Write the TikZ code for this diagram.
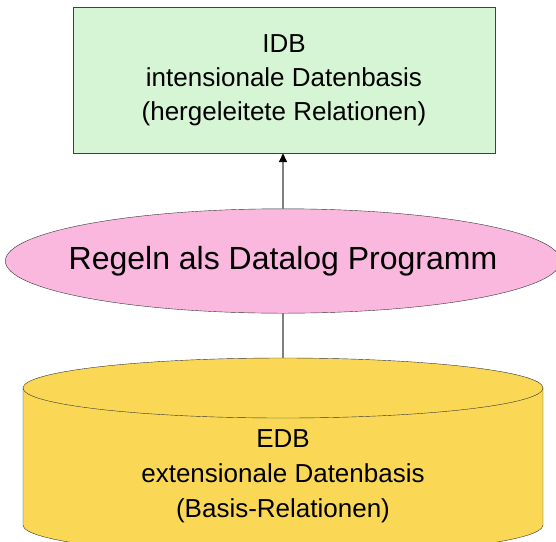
\documentclass[tikz,border=0pt]{standalone}
\usepackage{fontspec}
\setmainfont{Liberation Sans}
\usetikzlibrary{shapes.geometric,arrows.meta}
\definecolor{idbgreen}{RGB}{214,245,212}
\definecolor{regelpink}{RGB}{250,184,222}
\definecolor{edbyellow}{RGB}{250,216,86}
\tikzset{
  box/.style={draw=black!75,fill=idbgreen,minimum width=422pt,minimum height=146pt,inner sep=0pt,align=center,font=\fontsize{26}{34}\selectfont},
  regel/.style={ellipse,draw=black!80,fill=regelpink,inner xsep=-18pt,inner ysep=22pt,font=\fontsize{32}{38}\selectfont},
  txt/.style={align=center,font=\fontsize{26}{35}\selectfont},
  conn/.style={draw=black!50,line width=1.5pt}
}
\begin{document}
\begin{tikzpicture}[x=1pt,y=-1pt]
        \useasboundingbox (0,0) rectangle (556,541);
        \filldraw[draw=black!80,fill=edbyellow] (23,388) -- (23,525) arc[start angle=180,end angle=0,x radius=260,y radius=30] -- (543,388) arc[start angle=0,end angle=-180,x radius=260,y radius=30] -- cycle;
        \draw[black!80] (23,388) arc[start angle=180,end angle=0,x radius=260,y radius=30];
        \coordinate (edbtop) at (283,358);
        \node[txt] (edb) at (283,476) {EDB\\extensionale Datenbasis\\(Basis-Relationen)};
        \node[regel] (regeln) at (283,261) {Regeln als Datalog Programm};
        \node[box] (idb) at (284,80) {IDB\\intensionale Datenbasis\\(hergeleitete Relationen)};
        \draw[conn] (edbtop) -- (regeln.south);
        \draw[conn,-{Triangle[length=9pt,width=8pt,color=black,fill=black]}] (regeln.north) -- (idb.south -| regeln.north);
\end{tikzpicture}
\end{document}
